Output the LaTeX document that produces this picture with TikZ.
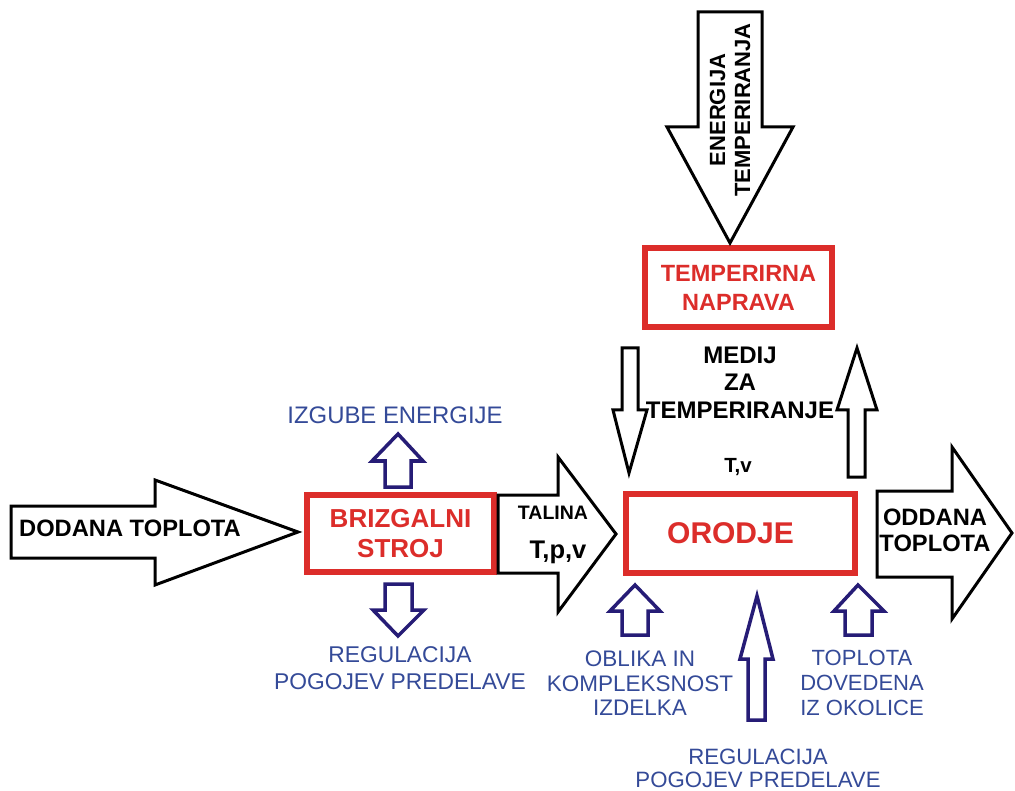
\documentclass[tikz,border=0pt]{standalone}
\usepackage{fontspec}
\setmainfont{Liberation Sans}
\usepackage{tikz}
\usetikzlibrary{positioning}

\definecolor{boxred}{RGB}{220,45,42}
\definecolor{txtblue}{RGB}{52,74,152}
\definecolor{arrnavy}{RGB}{38,28,118}
\newcommand{\fsz}[2]{\fontsize{#1}{#2}\selectfont}

\begin{document}
\begin{tikzpicture}[x=1pt, y=-1pt,
    every node/.style={align=center, inner sep=0pt},
    unit/.style={draw=boxred, line width=6.5pt, text=boxred},
    fat/.style={draw=black, line width=3pt, fill=white},
    slim/.style={draw=arrnavy, line width=3.5pt, fill=white},
    note/.style={text=txtblue}]

  \fill[white] (0,0) rectangle (1015,791);
  \useasboundingbox (0,0) rectangle (1015,791);

  %% ─── Units ──────────────────────────────────────────────────────────────
  \node[unit, minimum width=187pt, minimum height=77pt,
        font=\fsz{26}{30}\bfseries] (stroj)
      at (400.5,533.5) {BRIZGALNI\\STROJ};

  \node[unit, minimum width=229pt, minimum height=79pt,
        font=\fsz{30}{34}\bfseries] (orodje)
      at (740.5,533.5) {ORODJE\hspace*{20pt}};

  \node[unit, minimum width=187pt, minimum height=79pt,
        font=\fsz{23.5}{29}\bfseries] (naprava)
      at (738.5,287.5) {TEMPERIRNA\\NAPRAVA};

  %% ─── Heat flow (black block arrows) ────────────────────────────────────
  \draw[fat] (11,506) -- (155,506) -- (155,480) -- (298,532)
      -- (155,585) -- (155,558) -- (11,558) -- cycle;
  \node[font=\fsz{23.7}{28}\bfseries] (dodana) at (130,528.5) {DODANA TOPLOTA};

  \draw[fat] (498,495) -- (558,495) -- (558,457) -- (616,534)
      -- (558,612) -- (558,573) -- (498,573) -- cycle;
  \node[font=\fsz{19.5}{23}\bfseries] (talina) at (553,513) {TALINA};
  \node[font=\fsz{25.5}{30}\bfseries, anchor=base] (tpv) at (558,558) {T,p,v};

  \draw[fat] (877,491) -- (952,491) -- (952,447) -- (1012,533)
      -- (952,619) -- (952,577) -- (877,577) -- cycle;
  \node[font=\fsz{23.7}{26}\bfseries] (oddana) at (935,530) {ODDANA\\TOPLOTA};

  \draw[fat] (698,12) -- (762,12) -- (762,127) -- (793,127)
      -- (730,243) -- (667,127) -- (698,127) -- cycle;
  \node[font=\fsz{22}{25}\bfseries, rotate=90] (energija)
      at (730,110) {ENERGIJA\\TEMPERIRANJA};

  %% medium loop
  \draw[fat] (622,348) -- (638,348) -- (638,410) -- (647,410)
      -- (629,473) -- (613,410) -- (622,410) -- cycle;
  \draw[fat] (848,477) -- (865,477) -- (865,410) -- (877,410)
      -- (857,348) -- (837,410) -- (848,410) -- cycle;
  \node[font=\fsz{24}{27.5}\bfseries] (medij) at (740,382.5)
      {MEDIJ\\ZA\\TEMPERIRANJE};
  \node[font=\fsz{20.5}{24}\bfseries, anchor=base] (tv) at (738,472) {T,v};

  %% ─── Influences (navy arrows) ──────────────────────────────────────────
  \draw[slim] (385,487) -- (411,487) -- (411,461) -- (423,461)
      -- (398,434) -- (372,461) -- (385,461) -- cycle;
  \node[note, font=\fsz{23.9}{28}] (izgube) at (395,415) {IZGUBE ENERGIJE};

  \draw[slim] (385,584) -- (412,584) -- (412,610) -- (424,610)
      -- (398,636) -- (373,610) -- (385,610) -- cycle;
  \node[note, font=\fsz{22.8}{27}] (reg1) at (400,668.5)
      {REGULACIJA\\POGOJEV PREDELAVE};

  \draw[slim] (622,635) -- (648,635) -- (648,611) -- (660,611)
      -- (635,585) -- (610,611) -- (622,611) -- cycle;
  \node[note, font=\fsz{22.5}{24.5}] (oblika) at (640,683.5)
      {OBLIKA IN\\KOMPLEKSNOST\\IZDELKA};

  \draw[slim] (748,720) -- (765,720) -- (765,659) -- (773,659)
      -- (757,596) -- (740,659) -- (748,659) -- cycle;
  \node[note, font=\fsz{22.2}{23.5}] (reg2) at (758,768.5)
      {REGULACIJA\\POGOJEV PREDELAVE};

  \draw[slim] (845,635) -- (872,635) -- (872,611) -- (884,611)
      -- (858,585) -- (834,611) -- (845,611) -- cycle;
  \node[note, font=\fsz{22}{25}] (okolica) at (862,683)
      {TOPLOTA\\DOVEDENA\\IZ OKOLICE};

\end{tikzpicture}
\end{document}
